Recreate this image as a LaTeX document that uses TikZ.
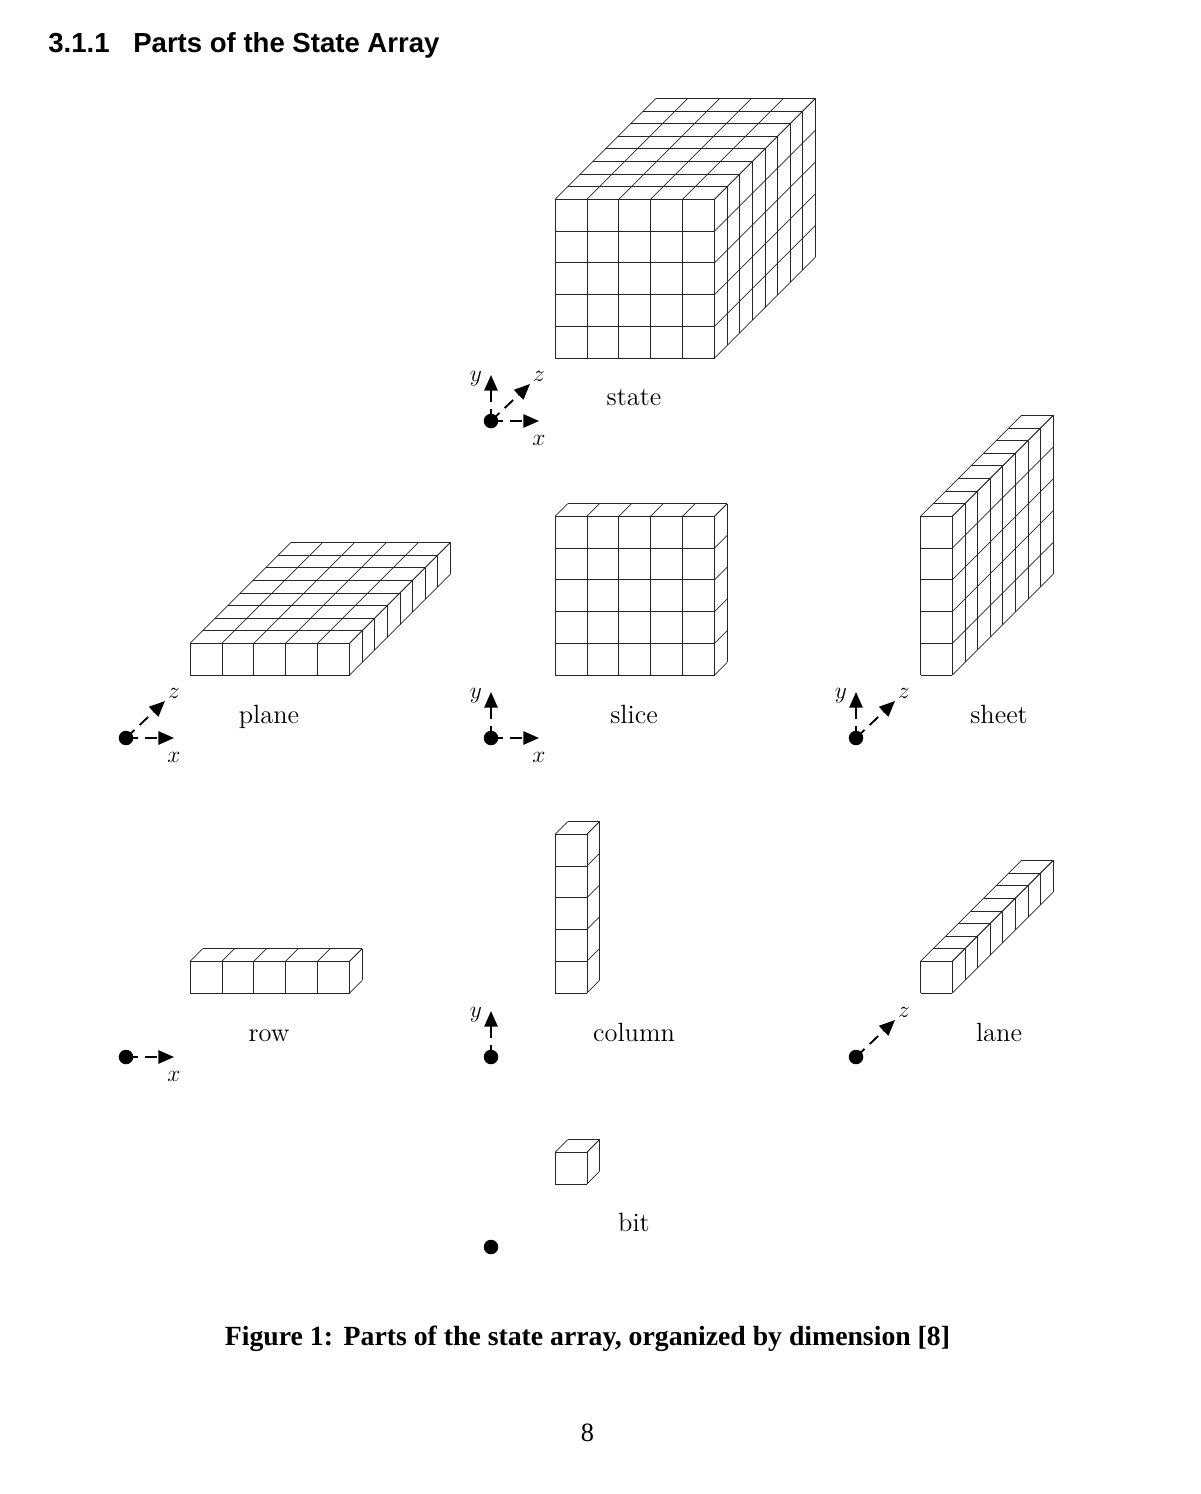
\documentclass[tikz,border=0pt]{standalone}
\usepackage{fontspec}
\newfontfamily\headfont{Liberation Sans}
\newfontfamily\capfont{Liberation Serif}
\usetikzlibrary{arrows.meta, calc}

% front-bottom-left corner x, y, then cells along x, y, z
\newcommand{\cuboid}[5]{
  % front face
  \foreach \i in {0,...,#3} \draw[cell] ({#1+\i*31.9},#2) -- ++(0,{-#4*31.75});
  \foreach \j in {0,...,#4} \draw[cell] (#1,{#2-\j*31.75}) -- ++({#3*31.9},0);
  % top face
  \foreach \i in {0,...,#3} \draw[cell] ({#1+\i*31.9},{#2-#4*31.75}) -- ++({#5*12.6},{-#5*12.6});
  \foreach \k in {1,...,#5} \draw[cell] ({#1+\k*12.6},{#2-#4*31.75-\k*12.6}) -- ++({#3*31.9},0);
  % right face
  \foreach \j in {0,...,#4} \draw[cell] ({#1+#3*31.9},{#2-\j*31.75}) -- ++({#5*12.6},{-#5*12.6});
  \foreach \k in {1,...,#5} \draw[cell] ({#1+#3*31.9+\k*12.6},{#2-\k*12.6}) -- ++(0,{-#4*31.75});
}
\newcommand{\axisx}[1]{
  \coordinate (#1x) at ($(#1)+(48,0)$);
  \draw[axis] (#1.center) -- (#1x);
  \node[axislabel] (#1xl) at ($(#1)+(48,19)$) {$x$};
}
\newcommand{\axisy}[1]{
  \coordinate (#1y) at ($(#1)+(0,-46)$);
  \draw[axis] (#1.center) -- (#1y);
  \node[axislabel] (#1yl) at ($(#1)+(-15,-42)$) {$y$};
}
\newcommand{\axisz}[1]{
  \coordinate (#1z) at ($(#1)+(39,-37)$);
  \draw[axis] (#1.center) -- (#1z);
  \node[axislabel] (#1zl) at ($(#1)+(48,-45)$) {$z$};
}

\begin{document}
\begin{tikzpicture}[
  x=0.51bp, y=-0.51bp,
  cell/.style={draw=black!85, line width=0.36pt},
  axis/.style={line width=0.95pt, dash pattern=on 6bp off 3.6bp, -{Triangle[length=8bp,width=6.8bp]}},
  origin/.style={circle, fill=black, inner sep=0pt, minimum size=7.4bp},
  axislabel/.style={font=\fontsize{11.5}{13}\selectfont, inner sep=0pt},
  partname/.style={font=\fontsize{13.5}{15}\selectfont, inner sep=0pt, anchor=base}
]
\useasboundingbox (0,0) rectangle (1200,1494);

\node[anchor=base west, inner sep=0pt, font=\headfont\bfseries\fontsize{14.1}{16}\selectfont] (heading) at (48,53) {3.1.1\hspace{0.86em}Parts of the State Array};

% state block
\cuboid{555}{358}{5}{5}{8}
\node[origin] (ostate) at (491,421) {};
\axisx{ostate} \axisy{ostate} \axisz{ostate}
\node[partname] (state) at (634,405.5) {state};

% plane block
\cuboid{190}{675}{5}{1}{8}
\node[origin] (oplane) at (126,738) {};
\axisx{oplane} \axisz{oplane}
\node[partname] (plane) at (269,723) {plane};

% slice block
\cuboid{555}{675}{5}{5}{1}
\node[origin] (oslice) at (491,738) {};
\axisx{oslice} \axisy{oslice}
\node[partname] (slice) at (634,723) {slice};

% sheet block
\cuboid{920.5}{675}{1}{5}{8}
\node[origin] (osheet) at (856,738) {};
\axisy{osheet} \axisz{osheet}
\node[partname] (sheet) at (999,723) {sheet};

% row block
\cuboid{190}{993}{5}{1}{1}
\node[origin] (orow) at (126,1057) {};
\axisx{orow}
\node[partname] (row) at (269,1041) {row};

% column block
\cuboid{555}{993}{1}{5}{1}
\node[origin] (ocolumn) at (491,1057) {};
\axisy{ocolumn}
\node[partname] (column) at (634,1041) {column};

% lane block
\cuboid{920.5}{993}{1}{1}{8}
\node[origin] (olane) at (856,1057) {};
\axisz{olane}
\node[partname] (lane) at (999,1041) {lane};

% bit block
\cuboid{555}{1184}{1}{1}{1}
\node[origin] (obit) at (491,1247) {};
\node[partname] (bit) at (634,1231) {bit};

\node[inner sep=0pt, font=\capfont\bfseries\fontsize{14.2}{16}\selectfont] (caption) at (587.5,1338.5) {Figure 1:\hspace{0.05em} Parts of the state array, organized by dimension [8]};
\node[inner sep=0pt, font=\capfont\fontsize{13.5}{15}\selectfont] (pagenum) at (587.5,1433) {8};
\end{tikzpicture}
\end{document}
